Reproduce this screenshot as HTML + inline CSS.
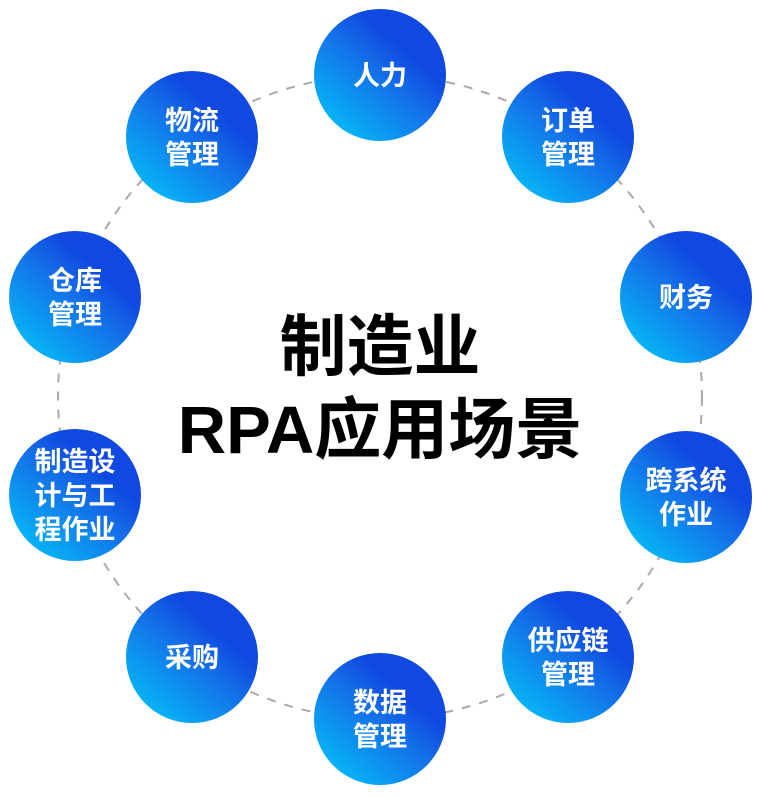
<!DOCTYPE html>
<html><head><meta charset="utf-8"><style>
html,body{margin:0;padding:0;background:#fff}
svg text{font-family:"Liberation Sans","Noto Sans CJK SC",sans-serif;font-weight:bold}
</style></head><body>
<svg width="761" height="792" viewBox="0 0 761 792" xmlns="http://www.w3.org/2000/svg">
<defs>
<linearGradient id="g" x1="0.15" y1="0.9" x2="0.85" y2="0.1">
<stop offset="0" stop-color="#06b6f6"/>
<stop offset="0.5" stop-color="#1470e8"/>
<stop offset="0.75" stop-color="#1049e0"/>
<stop offset="1" stop-color="#1048e2"/>
</linearGradient>
</defs>
<circle cx="380" cy="397" r="322" fill="none" stroke="#aaa" stroke-width="2" stroke-dasharray="9 9"/>
<g fill="url(#g)">
<circle cx="380" cy="75" r="66"/>
<circle cx="568" cy="137" r="66"/>
<circle cx="686" cy="297" r="66"/>
<circle cx="686" cy="497" r="66"/>
<circle cx="568" cy="657" r="66"/>
<circle cx="380" cy="719" r="66"/>
<circle cx="192" cy="657" r="66"/>
<circle cx="75" cy="495" r="66"/>
<circle cx="75" cy="297" r="66"/>
<circle cx="192" cy="137" r="66"/>
</g>
<g fill="#fff" font-size="27" text-anchor="middle">
<text x="380" y="85">人力</text>
<text x="568" y="130">订单</text><text x="568" y="164">管理</text>
<text x="686" y="307">财务</text>
<text x="686" y="490">跨系统</text><text x="686" y="524">作业</text>
<text x="568" y="650">供应链</text><text x="568" y="684">管理</text>
<text x="380" y="712">数据</text><text x="380" y="746">管理</text>
<text x="192" y="667">采购</text>
<text x="75" y="471">制造设</text><text x="75" y="505">计与工</text><text x="75" y="539">程作业</text>
<text x="75" y="290">仓库</text><text x="75" y="324">管理</text>
<text x="192" y="130">物流</text><text x="192" y="164">管理</text>
</g>
<g fill="#000" font-size="67" text-anchor="middle">
<text x="380" y="370">制造业</text>
<text x="380" y="453">RPA应用场景</text>
</g>
</svg>
</body></html>
